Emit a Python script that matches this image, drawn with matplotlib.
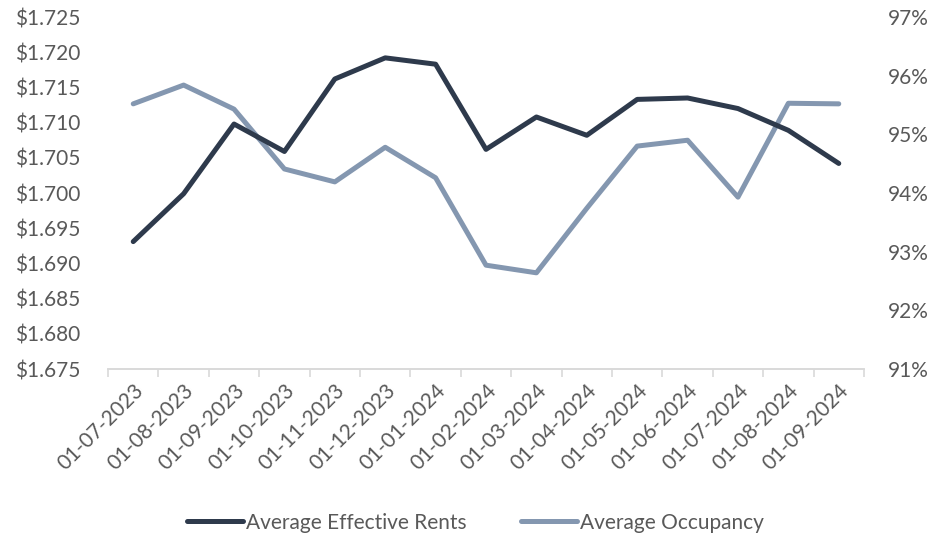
import matplotlib.pyplot as plt
import numpy as np
from matplotlib.ticker import FuncFormatter, MultipleLocator

# Данные графика
dates = ['01-07-2023', '01-08-2023', '01-09-2023', '01-10-2023', '01-11-2023',
         '01-12-2023', '01-01-2024', '01-02-2024', '01-03-2024', '01-04-2024',
         '01-05-2024', '01-06-2024', '01-07-2024', '01-08-2024', '01-09-2024']
rents = [1.6931, 1.6999, 1.7098, 1.7059, 1.7162, 1.7192, 1.7183, 1.7062,
         1.7108, 1.7082, 1.7133, 1.7135, 1.7120, 1.7089, 1.7042]
occupancy = [95.52, 95.84, 95.43, 94.41, 94.19, 94.78, 94.26, 92.77,
             92.64, 93.74, 94.80, 94.90, 93.93, 95.53, 95.52]

dark = '#2E3A4C'
light = '#8497B0'
txt = '#595959'

plt.rcParams['font.family'] = ['Lato', 'DejaVu Sans']

fig = plt.figure(figsize=(9.29, 5.37), dpi=100)
ax = fig.add_axes([0.1163, 0.3128, 0.8137, 0.6555])
ax2 = ax.twinx()

x = np.arange(len(dates))
l1, = ax.plot(x, rents, color=dark, linewidth=3.6, solid_capstyle='round',
              label='Average Effective Rents')
l2, = ax2.plot(x, occupancy, color=light, linewidth=3.6, solid_capstyle='round',
               label='Average Occupancy')
ax.set_zorder(ax2.get_zorder() + 1)
ax.patch.set_visible(False)

ax.set_xlim(-0.5, len(dates) - 0.5)
ax.set_ylim(1.675, 1.725)
ax.yaxis.set_major_locator(MultipleLocator(0.005))
ax.yaxis.set_major_formatter(FuncFormatter(lambda v, p: '${:.3f}'.format(v)))
ax2.set_ylim(91, 97)
ax2.yaxis.set_major_locator(MultipleLocator(1))
ax2.yaxis.set_major_formatter(FuncFormatter(lambda v, p: '{:.0f}%'.format(v)))

for a in (ax, ax2):
    for s in ['top', 'left', 'right']:
        a.spines[s].set_visible(False)
    a.spines['bottom'].set_color('#D9D9D9')
    a.spines['bottom'].set_linewidth(1.2)

ax.tick_params(axis='y', length=0, labelsize=15, labelcolor=txt, pad=20)
ax2.tick_params(axis='y', length=0, labelsize=15, labelcolor=txt, pad=17)

ax.set_xticks(x)
ax.set_xticklabels(dates, rotation=45, ha='right', rotation_mode='anchor',
                   fontsize=15, color=txt)
ax.set_xticks(np.arange(-0.5, len(dates)), minor=True)
ax.tick_params(axis='x', which='major', length=0, pad=8)
ax.tick_params(axis='x', which='minor', length=6, color='#D9D9D9', width=1.2)

leg = fig.legend([l1, l2], ['Average Effective Rents', 'Average Occupancy'],
                 loc='center', bbox_to_anchor=(0.512, 0.027), ncol=2,
                 frameon=False, fontsize=15, handlelength=2.7,
                 handletextpad=0.15, columnspacing=2.6)
for t in leg.get_texts():
    t.set_color(txt)

fig.savefig('out.png', dpi=100)
